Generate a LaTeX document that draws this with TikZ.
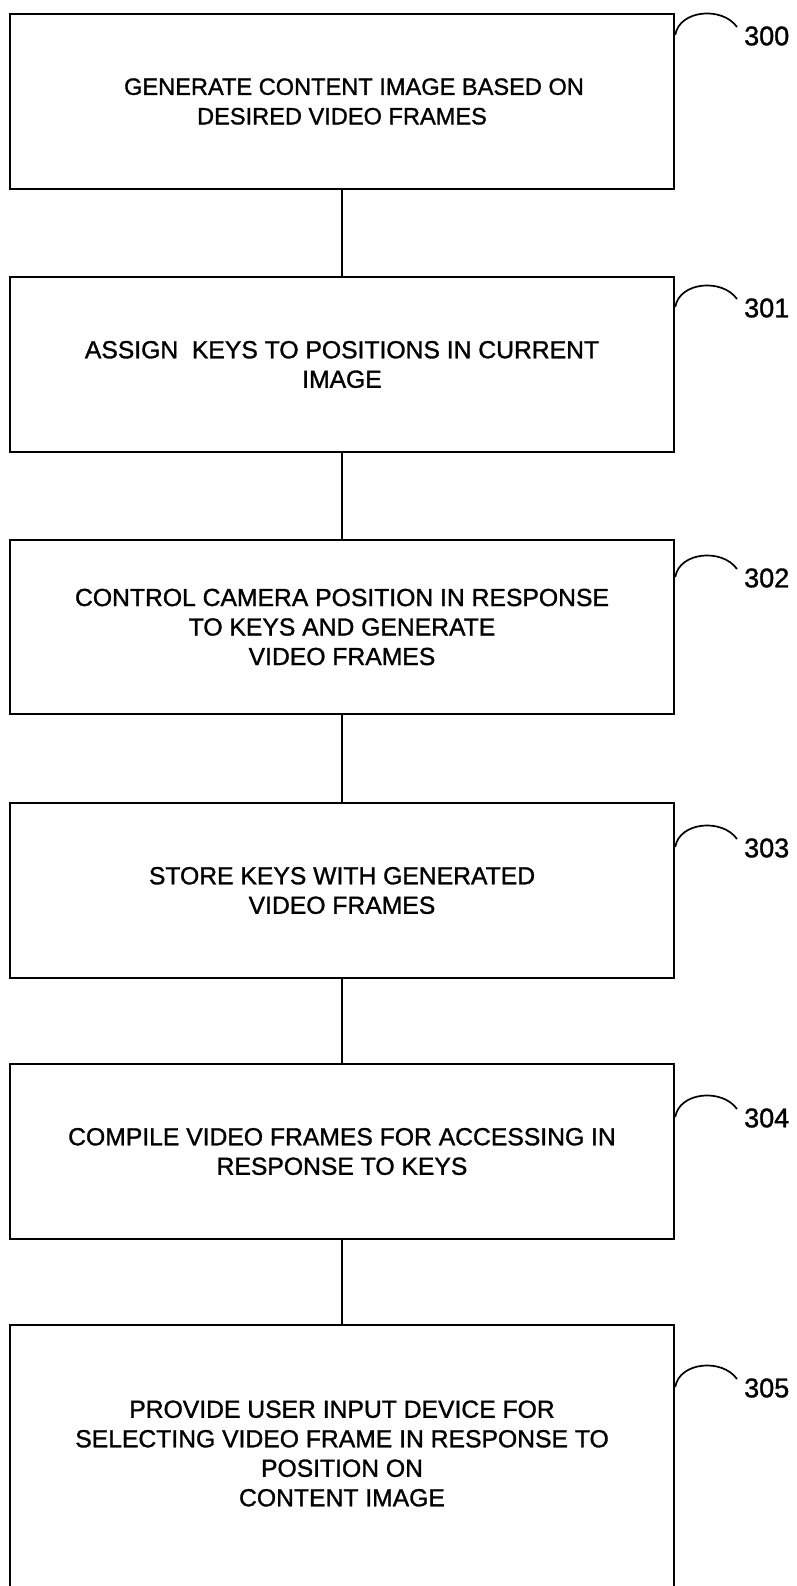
\documentclass[tikz,border=0pt]{standalone}
\usepackage{fontspec}
\setmainfont{Liberation Sans}[FakeBold=1.2]
\newfontfamily\scanfont{Liberation Sans}[FakeBold=1.2]
\newcommand{\refmark}[3]{%
  \coordinate (#1k) at (0,#2+22);
  \coordinate (#1e) at (737,#2+14);
  \draw[refarc] (#1.east |- #1k) .. controls +(4,-25) and +(-15,-21) .. (#1e);
  \node[reflabel] (#1l) at (744,#2+23) {#3};}
\begin{document}
\begin{tikzpicture}[x=1pt,y=-1pt,
  stepbox/.style={draw, line width=2.5pt, minimum width=664pt, inner sep=0pt,
    align=center, font=\scanfont\fontsize{24.7}{29.5}\selectfont},
  steptext/.style={inner sep=0pt, align=center, font=\scanfont\fontsize{24.7}{29.5}\selectfont},
  link/.style={line width=1.5pt},
  refarc/.style={line width=1.7pt},
  reflabel/.style={anchor=west, inner sep=0pt, font=\scanfont\fontsize{27}{27}\selectfont}]
\useasboundingbox (0,0) rectangle (797,1586);
\clip (0,0) rectangle (797,1586);
\node[stepbox, minimum height=175pt, font=\scanfont\fontsize{23.6}{29.5}\selectfont] (b0) at (342,101.5)
  {\hspace*{24pt}GENERATE CONTENT IMAGE BASED ON\\DESIRED VIDEO FRAMES};
\node[stepbox, minimum height=175pt] (b1) at (342,364.5)
  {ASSIGN\ \ KEYS TO POSITIONS IN CURRENT\\IMAGE};
\node[stepbox, minimum height=174pt] (b2) at (342,627)
  {CONTROL CAMERA POSITION IN RESPONSE\\TO KEYS AND GENERATE\\VIDEO FRAMES};
\node[stepbox, minimum height=175pt] (b3) at (342,890.5)
  {STORE KEYS WITH GENERATED\\VIDEO FRAMES};
\node[stepbox, minimum height=175pt] (b4) at (342,1151.5)
  {COMPILE VIDEO FRAMES FOR ACCESSING IN\\RESPONSE TO KEYS};
\node[stepbox, minimum height=290pt] (b5) at (342,1470) {};
\node[steptext] (t5) at (342,1453.5)
  {PROVIDE USER INPUT DEVICE FOR\\SELECTING VIDEO FRAME IN RESPONSE TO\\POSITION ON\\CONTENT IMAGE};
\draw[link] (b0.south) -- (b1.north);
\draw[link] (b1.south) -- (b2.north);
\draw[link] (b2.south) -- (b3.north);
\draw[link] (b3.south) -- (b4.north);
\draw[link] (b4.south) -- (b5.north);
\refmark{b0}{13}{300}
\refmark{b1}{285}{301}
\refmark{b2}{555}{302}
\refmark{b3}{825}{303}
\refmark{b4}{1095}{304}
\refmark{b5}{1365}{305}
\end{tikzpicture}
\end{document}
